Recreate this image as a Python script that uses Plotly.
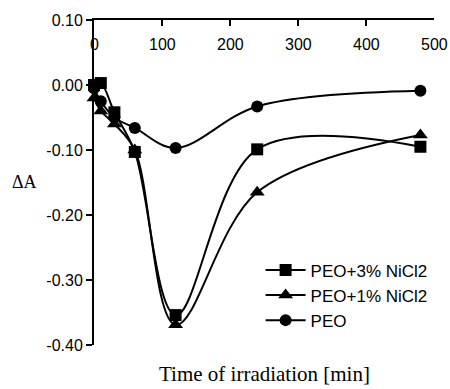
import plotly.graph_objects as go

# Data
x_sq = [0, 10, 30, 60, 120, 240, 480]
y_sq = [0.0, 0.003, -0.042, -0.103, -0.354, -0.099, -0.095]

x_tri = [0, 10, 30, 60, 120, 240, 480]
y_tri = [-0.02, -0.04, -0.06, -0.10, -0.369, -0.165, -0.077]

x_cir = [0, 10, 30, 60, 120, 240, 480]
y_cir = [-0.005, -0.025, -0.05, -0.066, -0.097, -0.033, -0.009]

names = ["PEO+3% NiCl2", "PEO+1% NiCl2", "PEO"]

x_ticks = [0, 100, 200, 300, 400, 500]
y_ticks = [0.10, 0.00, -0.10, -0.20, -0.30, -0.40]

fig = go.Figure()
series = [(x_sq, y_sq, "square", 12), (x_tri, y_tri, "triangle-up", 13), (x_cir, y_cir, "circle", 12)]
for (xs, ys, sym, sz), nm in zip(series, names):
    fig.add_trace(go.Scatter(
        x=xs, y=ys, name=nm, mode="lines+markers", cliponaxis=False,
        line=dict(color="black", width=2, shape="spline", smoothing=1.0),
        marker=dict(symbol=sym, size=sz, color="black"),
    ))

annots = [
    dict(text="Time of irradiation [min]", x=0.5, y=-0.045, xref="paper", yref="paper",
         xanchor="center", yanchor="top", showarrow=False,
         font=dict(family="Liberation Serif, Times New Roman", size=21, color="black")),
    dict(text="ΔA", x=-0.203, y=(345 - 182) / 325.0, xref="paper", yref="paper",
         xanchor="center", yanchor="middle", showarrow=False,
         font=dict(family="Liberation Serif, Times New Roman", size=18, color="black")),
]
for v in x_ticks:
    annots.append(dict(text=str(v), x=v, y=1, xref="x", yref="paper", yshift=-14,
                       xanchor="center", yanchor="top", showarrow=False,
                       font=dict(family="Liberation Sans, Arial", size=16, color="black")))

fig.update_layout(
    width=450, height=389,
    margin=dict(l=94, r=16, t=20, b=44),
    paper_bgcolor="white", plot_bgcolor="white",
    font=dict(family="Liberation Sans, Arial", size=16, color="black"),
    showlegend=True,
    legend=dict(x=0.49, y=0.285, xanchor="left", yanchor="top",
                font=dict(size=17, family="Liberation Sans, Arial", color="black"),
                itemwidth=40, tracegroupgap=0, bgcolor="rgba(0,0,0,0)"),
    xaxis=dict(range=[0, 500], side="top", tickvals=x_ticks,
               showticklabels=False,
               ticks="inside", ticklen=6, tickwidth=1.5, tickcolor="black",
               showline=True, linecolor="black", linewidth=2,
               showgrid=False, zeroline=False),
    yaxis=dict(range=[-0.40, 0.10], tickvals=y_ticks,
               ticktext=["%.2f" % v for v in y_ticks],
               ticks="outside", ticklen=6, tickwidth=1.5, tickcolor="black",
               showline=True, linecolor="black", linewidth=2,
               showgrid=False, zeroline=False,
               tickfont=dict(size=16)),
    annotations=annots,
)

fig.write_html("out.html", config={"displayModeBar": False},
               post_script="document.body.style.margin='0';")
